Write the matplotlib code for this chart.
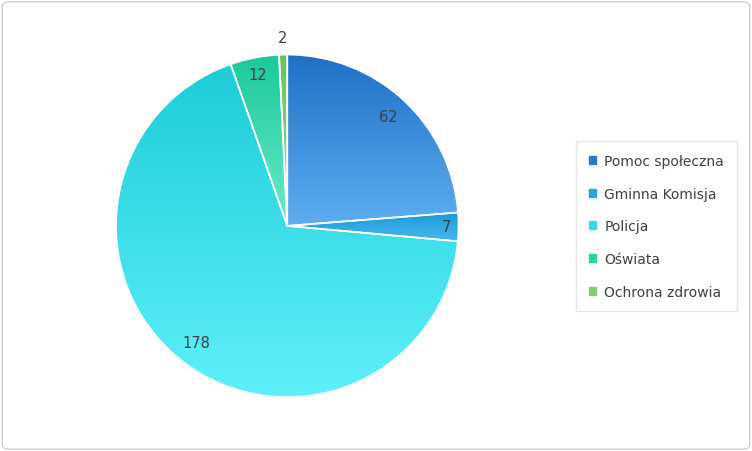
import numpy as np
import matplotlib
matplotlib.use("Agg")
import matplotlib.pyplot as plt
from matplotlib.colors import LinearSegmentedColormap
from matplotlib.patches import FancyBboxPatch

categories = ["Pomoc społeczna", "Gminna Komisja", "Policja", "Oświata", "Ochrona zdrowia"]
values = [62, 7, 178, 12, 2]
top_colors = ["#1f6fc6", "#1a98da", "#1ccdd8", "#1cc89c", "#6cbf5c"]
bot_colors = ["#5eaef2", "#4ab8ee", "#60f0fa", "#68ecc8", "#a6e28e"]
legend_colors = ["#2a78c8", "#22a6e0", "#3ed8e4", "#2ed0a6", "#86cc70"]

fig = plt.figure(figsize=(7.52, 4.52), dpi=100)
fig.patches.append(FancyBboxPatch((0.003, 0.004), 0.994, 0.99, boxstyle="round,pad=0,rounding_size=0.01",
                                  transform=fig.transFigure, fill=False, ec="#d0d0d0", lw=1))
ax = fig.add_axes([0.382 - 0.23, 0.498 - 0.3827, 0.46, 0.7655])
wedges, _ = ax.pie(values, startangle=90, counterclock=False, colors=top_colors,
                   wedgeprops=dict(edgecolor="white", linewidth=1.2))
ax.set_aspect("equal")
grad = np.linspace(0, 1, 256).reshape(-1, 1)
for w, c1, c2 in zip(wedges, top_colors, bot_colors):
    cmap = LinearSegmentedColormap.from_list("g", [c1, c2])
    verts = w.get_path().vertices
    y0, y1 = verts[:, 1].min(), verts[:, 1].max()
    im = ax.imshow(grad, cmap=cmap, extent=[-1.02, 1.02, y0, y1], origin="upper", aspect="auto", zorder=1)
    im.set_clip_path(w)
    w.set_facecolor("none"); w.set_zorder(2)
dists = [0.87, 0.93, 0.86, 0.9, 1.1]
for w, v, d in zip(wedges, values, dists):
    a = np.deg2rad((w.theta1 + w.theta2) / 2)
    ax.text(d * np.cos(a), d * np.sin(a), str(v), ha="center", va="center", fontsize=10.5,
            color="#404040", zorder=3)
ax.set_xlim(-1.01, 1.01); ax.set_ylim(-1.01, 1.01)
handles = [plt.Rectangle((0, 0), 1, 1, color=c) for c in legend_colors]
leg = fig.legend(handles, categories, loc="center", bbox_to_anchor=(0.873, 0.497), frameon=True,
                 fontsize=10, handlelength=0.5, handleheight=0.5, handletextpad=0.6,
                 labelspacing=1.35, borderpad=0.9, fancybox=False, edgecolor="#e0e0e0")
for t in leg.get_texts():
    t.set_color("#404040")
fig.savefig("out.png", dpi=100)
